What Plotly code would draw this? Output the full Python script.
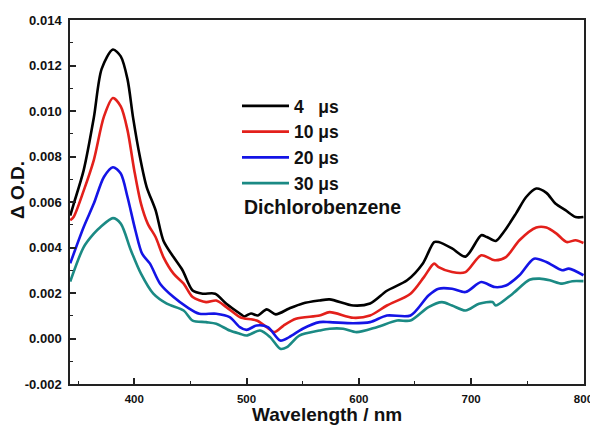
import plotly.graph_objects as go

# ---- data (wavelength in nm, delta OD in units of 0.001) ----
wl_4us = [343, 346, 355, 364, 371, 381, 388, 394, 399, 405, 411, 419, 426, 435, 443, 452, 461, 472,
          482, 494, 498, 504, 510, 518, 526, 538, 550, 565, 574, 595, 610, 625, 643, 657, 667, 671,
          683, 695, 709, 714, 722, 729, 740, 749, 758, 767, 775, 784, 793, 800]
od_4us = [5.4, 5.9, 7.4, 9.7, 11.85, 12.7, 12.4, 11.4, 9.7, 8.0, 6.67, 5.64, 4.3, 3.58, 3.0, 2.11, 1.97, 1.97,
          1.53, 1.1, 0.97, 1.1, 1.01, 1.28, 1.06, 1.32, 1.54, 1.67, 1.72, 1.45, 1.54, 2.1, 2.56, 3.3, 4.24, 4.24,
          3.96, 3.6, 4.54, 4.46, 4.29, 4.68, 5.5, 6.22, 6.59, 6.4, 5.93, 5.64, 5.34, 5.34]

wl_10us = [343, 346, 355, 364, 373, 381, 388, 394, 400, 406, 412, 419, 426, 435, 444, 452, 464, 473,
           482, 494, 498, 509, 518, 525, 533, 544, 565, 574, 595, 610, 625, 646, 658, 667, 671,
           683, 695, 709, 721, 731, 743, 758, 767, 776, 785, 793, 800]
od_10us = [5.2, 5.34, 6.5, 7.84, 9.75, 10.57, 10.2, 9.16, 7.4, 5.93, 5.05, 4.46, 3.58, 2.85, 2.41, 1.82, 1.6, 1.67,
           1.38, 0.94, 0.88, 0.79, 0.5, 0.28, 0.57, 0.87, 1.01, 1.16, 0.91, 1.01, 1.45, 1.97, 2.7, 3.29, 3.14,
           2.92, 2.92, 3.66, 3.44, 3.58, 4.32, 4.88, 4.88, 4.61, 4.24, 4.32, 4.2]

wl_20us = [343, 355, 364, 373, 381, 388, 394, 401, 407, 414, 423, 435, 447, 458, 473, 485, 494,
           500, 509, 519, 530, 538, 550, 565, 574, 595, 610, 625, 646, 662, 671, 683, 695,
           709, 721, 731, 743, 756, 767, 781, 787, 800]
od_20us = [3.3, 4.9, 5.93, 7.1, 7.53, 7.25, 6.22, 4.76, 3.73, 3.29, 2.41, 1.82, 1.38, 1.09, 1.09, 0.94, 0.5,
           0.38, 0.57, 0.5, -0.09, 0.06, 0.43, 0.72, 0.72, 0.67, 0.72, 1.01, 1.01, 1.89, 2.19, 2.19, 2.04,
           2.48, 2.26, 2.33, 2.78, 3.51, 3.36, 3.0, 3.07, 2.78]

wl_30us = [343, 355, 364, 370, 381, 388, 397, 406, 417, 429, 444, 452, 464, 473, 485, 494,
           500, 512, 521, 530, 536, 547, 565, 574, 586, 598, 616, 634, 646, 662, 674, 683, 695,
           707, 719, 722, 737, 752, 761, 770, 781, 790, 800]
od_30us = [2.5, 4.02, 4.61, 4.9, 5.29, 5.05, 3.88, 2.85, 1.97, 1.53, 1.23, 0.79, 0.72, 0.65, 0.35, 0.21,
           0.13, 0.35, 0.06, -0.45, -0.38, 0.13, 0.35, 0.43, 0.43, 0.28, 0.5, 0.79, 0.79, 1.38, 1.6, 1.45, 1.23,
           1.53, 1.6, 1.45, 1.97, 2.58, 2.63, 2.56, 2.41, 2.52, 2.52]

series_names = ["4\u00a0\u00a0\u00a0μs", "10 μs", "20 μs", "30 μs"]
series_colors = ["#000000", "#e3201b", "#1414e6", "#1b8a84"]
series_x = [wl_4us, wl_10us, wl_20us, wl_30us]
series_y = [od_4us, od_10us, od_20us, od_30us]

y_ticks = [-0.002, 0.0, 0.002, 0.004, 0.006, 0.008, 0.010, 0.012, 0.014]
y_ticklabels = ["-0.002", "0.000", "0.002", "0.004", "0.006", "0.008", "0.010", "0.012", "0.014"]
x_ticks = [400, 500, 600, 700, 800]

FONT = "Arial, Liberation Sans, sans-serif"

# the page body has an 8px margin, so the figure is drawn 8px right/down
OFF = 8
PL, PR, PT, PB = 70, 584, 20, 384   # plot frame in page pixels
W, H = 598 - OFF, 425 - OFF


def px(page_x):
    return (page_x - PL) / (PR - PL)


def py(page_y):
    return (PB - page_y) / (PB - PT)


fig = go.Figure()
for name, col, xs, ys in zip(series_names, series_colors, series_x, series_y):
    fig.add_trace(go.Scatter(
        x=xs, y=[v / 1000 for v in ys], mode="lines", name=name,
        line=dict(color=col, width=2.6, shape="spline", smoothing=0.8),
    ))

axis_common = dict(
    showline=True, linecolor="#222", linewidth=1.5, mirror=True,
    ticks="inside", ticklen=6, tickwidth=1.5, tickcolor="#222",
    showgrid=False, zeroline=False, automargin=False,
)

fig.update_xaxes(
    range=[342.8, 800.5], tickvals=x_ticks, ticklabelstandoff=3,
    tickfont=dict(family=FONT, size=11.5, color="#111", weight="bold"),
    minor=dict(ticks="inside", ticklen=3, tickwidth=1.2, tickcolor="#222", dtick=50, tick0=350, showgrid=False),
    **axis_common,
)
fig.update_yaxes(
    range=[-0.002, 0.014], tickvals=y_ticks, ticktext=y_ticklabels, ticklabelstandoff=4,
    tickfont=dict(family=FONT, size=13, color="#111", weight="bold"),
    minor=dict(ticks="inside", ticklen=3, tickwidth=1.2, tickcolor="#222", dtick=0.001, tick0=0, showgrid=False),
    **axis_common,
)

fig.update_layout(
    width=W, height=H,
    margin=dict(l=PL - OFF, r=W - (PR - OFF), t=PT - OFF, b=H - (PB - OFF)),
    paper_bgcolor="white", plot_bgcolor="white",
    showlegend=True,
    legend=dict(
        x=px(237), y=py(88), xanchor="left", yanchor="top",
        bgcolor="rgba(0,0,0,0)", borderwidth=0,
        font=dict(family=FONT, size=17.5, color="#111", weight="bold"),
        tracegroupgap=0, itemwidth=47,
    ),
    annotations=[
        dict(
            text="Dichlorobenzene", xref="paper", yref="paper",
            x=px(242), y=py(207), xanchor="left", yanchor="middle",
            showarrow=False, font=dict(family=FONT, size=19.5, color="#111", weight="bold"),
        ),
        dict(
            text="Δ O.D.", xref="paper", yref="paper", textangle=-90,
            x=px(17), y=py(190), xanchor="center", yanchor="middle",
            showarrow=False, font=dict(family=FONT, size=19, color="#111", weight="bold"),
        ),
        dict(
            text="Wavelength / nm", xref="paper", yref="paper",
            x=px(327), y=py(414), xanchor="center", yanchor="middle",
            showarrow=False, font=dict(family=FONT, size=19, color="#111", weight="bold"),
        ),
    ],
)

fig.write_html("out.html")
